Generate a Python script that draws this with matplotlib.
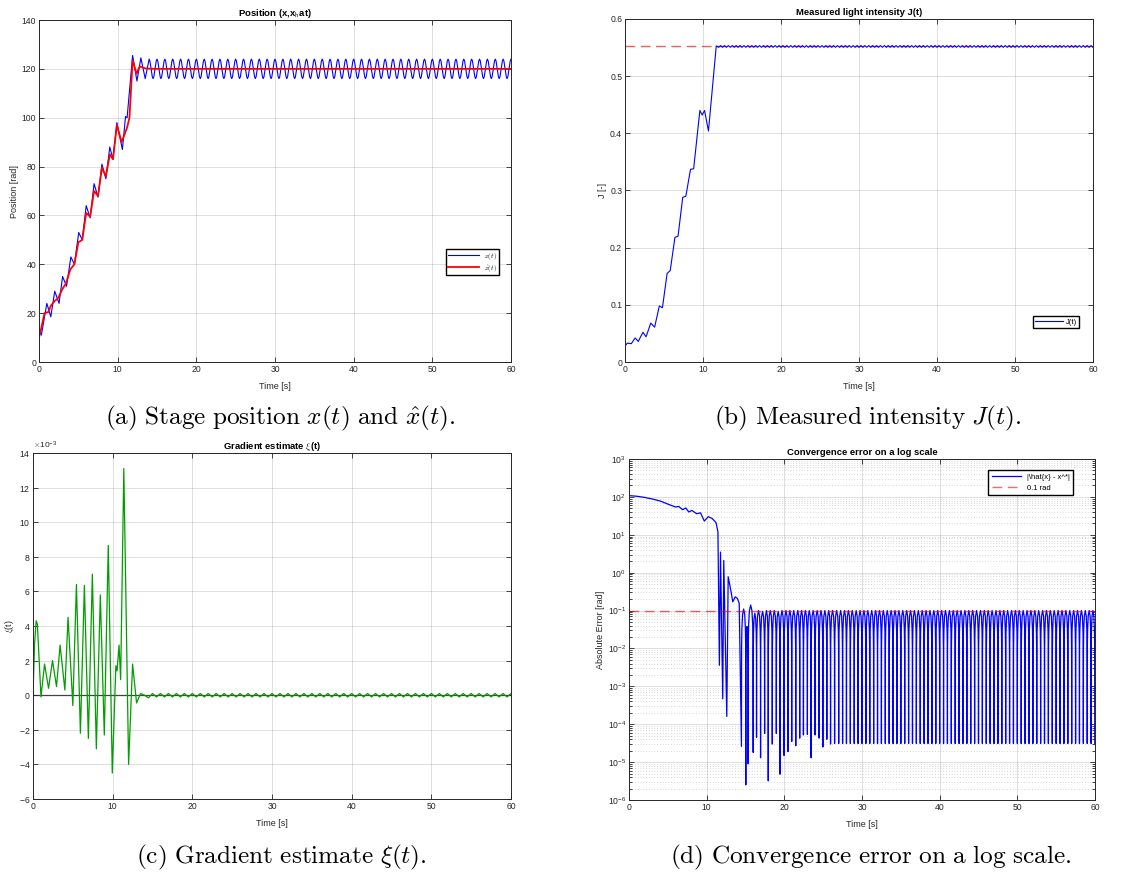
import numpy as np
import matplotlib
matplotlib.use('Agg')
import matplotlib.pyplot as plt
from matplotlib.ticker import LogLocator, NullFormatter, FormatStrFormatter

plt.rcParams['font.family'] = ['Liberation Sans', 'DejaVu Sans']
plt.rcParams['mathtext.fontset'] = 'cm'
plt.rcParams['axes.unicode_minus'] = False

# ---------------- (a) stage position ----------------
t_x = [0, 0.3, 1.0, 1.5, 2.0, 2.55, 3.0, 3.5, 4.05, 4.5, 5.05, 5.5, 6.0, 6.5, 7.0,
       7.5, 8.0, 8.5, 9.0, 9.4, 9.9, 10.6, 11.0, 11.2, 11.9, 12.45, 12.95, 13.5]
x_val = [14, 11, 24, 18.5, 29, 24, 35, 31, 43, 40, 53, 50, 64, 59, 73,
         67.5, 81, 75, 88, 83, 98, 87, 100.5, 100, 125.5, 115, 124.5, 116]
# steady oscillation, one cycle per second (peak 124, trough 116)
x_cycles = [14, 15, 16, 17, 18, 19, 20, 21, 22, 23, 24, 25, 26, 27, 28, 29, 30, 31,
            32, 33, 34, 35, 36, 37, 38, 39, 40, 41, 42, 43, 44, 45, 46, 47, 48, 49,
            50, 51, 52, 53, 54, 55, 56, 57, 58, 59, 60]
x_cyc_off = [0, 0.1, 0.25, 0.4, 0.5, 0.6, 0.75, 0.9]
x_cyc_val = [124, 123.2, 120, 116.8, 116, 116.8, 120, 123.2]

t_xh = [0, 0.3, 0.7, 1.2, 1.5, 2.0, 2.4, 3.0, 3.4, 4.0, 4.5, 5.0, 5.5, 6.0, 6.5, 7.0,
        7.5, 8.0, 8.5, 9.0, 9.4, 9.9, 10.5, 11.2, 11.5, 11.9, 12.4, 12.8, 13.5, 14.5, 60]
xh_val = [10, 14, 20, 20.5, 23, 25, 26, 30, 32, 38, 40, 49, 50, 61, 59.5, 70,
          68, 79.5, 76, 85, 83, 97, 90, 96, 100, 123.5, 118, 121, 120.2, 120, 120]

# ---------------- (b) measured intensity ----------------
t_J = [0, 0.3, 0.8, 1.3, 1.7, 2.3, 2.7, 3.3, 3.8, 4.4, 4.8, 5.4, 5.8, 6.4, 6.8,
       7.4, 7.8, 8.4, 8.8, 9.6, 9.9, 10.2, 10.7, 11.7]
J_val = [0.028, 0.033, 0.032, 0.042, 0.036, 0.052, 0.044, 0.068, 0.061, 0.098, 0.095,
         0.155, 0.16, 0.218, 0.22, 0.288, 0.29, 0.337, 0.338, 0.44, 0.432, 0.44, 0.404, 0.553]
J_cycles = [12, 13, 14, 15, 16, 17, 18, 19, 20, 21, 22, 23, 24, 25, 26, 27, 28, 29,
            30, 31, 32, 33, 34, 35, 36, 37, 38, 39, 40, 41, 42, 43, 44, 45, 46, 47,
            48, 49, 50, 51, 52, 53, 54, 55, 56, 57, 58, 59, 60]
J_cyc_off = [0, 0.25, 0.5, 0.75]
J_cyc_val = [0.5505, 0.5535, 0.5505, 0.5535]
J_max = 0.5535

# ---------------- (c) gradient estimate (x 1e-3) ----------------
t_xi = [0, 0.2, 0.4, 0.55, 1.0, 1.45, 1.95, 2.45, 2.95, 3.4, 4.0, 4.4, 5.0, 5.45, 5.95,
        6.45, 6.95, 7.45, 7.95, 8.45, 8.95, 9.45, 9.95, 10.4, 10.55, 10.8, 11.0, 11.4,
        12.0, 12.5, 13.0, 13.5, 14.0, 14.5]
xi_val = [0, 3.0, 4.3, 4.1, -0.1, 1.8, 0.4, 2.0, 0.5, 2.9, 0.3, 4.5, -0.6, 6.4, -2.2,
          6.35, -2.5, 7.0, -3.1, 5.8, -2.3, 8.65, -4.5, 1.7, 1.4, 2.9, 0.9, 13.1,
          -4.0, 1.8, -0.45, 0.1, 0.0, -0.15]
xi_cycles = [15, 16, 17, 18, 19, 20, 21, 22, 23, 24, 25, 26, 27, 28, 29, 30, 31, 32,
             33, 34, 35, 36, 37, 38, 39, 40, 41, 42, 43, 44, 45, 46, 47, 48, 49, 50,
             51, 52, 53, 54, 55, 56, 57, 58, 59, 60]
xi_cyc_off = [0, 0.5]
xi_cyc_val = [0.1, -0.1]

# ---------------- (d) convergence error ----------------
t_err = [0, 1, 2, 3, 4, 4.8, 5.4, 6.0, 6.4, 6.9, 7.3, 7.7, 8.1, 8.7, 9.2, 9.7, 10.2,
         10.7, 11.2, 11.45, 11.64, 11.78, 12.07, 12.2, 12.59, 12.77, 13.1, 13.36,
         13.67, 13.95, 14.19]
err_val = [108, 104, 97, 88, 78, 67, 60, 54, 56, 46, 51, 40, 44, 36, 38, 23, 30,
           27, 21, 12, 0.0036, 3.5, 0.00047, 2.1, 0.00016, 0.78, 0.35, 0.17,
           0.23, 0.21, 0.155]
dip_t = [14.48, 15.04, 15.34, 15.99, 16.42, 16.94, 17.46, 17.93, 18.45, 18.97, 19.44,
         19.96, 20.47, 20.95, 21.47, 21.98, 22.46, 22.97, 23.45, 23.96, 24.48, 24.96,
         25.47, 25.95, 26.47]
dip_v = [2.6e-5, 2.5e-6, 9e-6, 1.8e-5, 4.5e-5, 1.3e-5, 5.7e-5, 3.2e-6, 3e-5, 5.7e-5,
         4.8e-6, 1.5e-5, 1.9e-5, 3.5e-5, 2.7e-5, 4.3e-5, 5.2e-5, 5.4e-5, 1.3e-5, 5.2e-5,
         4.3e-5, 2.5e-5, 4e-5, 3e-5, 3.1e-5]
arch_peak = [0.11, 0.038, 0.14, 0.085, 0.1, 0.095, 0.1, 0.1, 0.1, 0.095, 0.1, 0.1,
             0.1, 0.1, 0.1, 0.1, 0.1, 0.1, 0.1, 0.1, 0.1, 0.1, 0.1, 0.1]
dip_t_steady = [27.0, 27.5, 28.0, 28.5, 29.0, 29.5, 30.0, 30.5, 31.0, 31.5, 32.0, 32.5,
                33.0, 33.5, 34.0, 34.5, 35.0, 35.5, 36.0, 36.5, 37.0, 37.5, 38.0, 38.5,
                39.0, 39.5, 40.0, 40.5, 41.0, 41.5, 42.0, 42.5, 43.0, 43.5, 44.0, 44.5,
                45.0, 45.5, 46.0, 46.5, 47.0, 47.5, 48.0, 48.5, 49.0, 49.5, 50.0, 50.5,
                51.0, 51.5, 52.0, 52.5, 53.0, 53.5, 54.0, 54.5, 55.0, 55.5, 56.0, 56.5,
                57.0, 57.5, 58.0, 58.5, 59.0, 59.5, 59.97]
dip_floor = 3.1e-5
arch_top = 0.1
# shape of one arch between two dips (fraction of gap, fraction of arch peak)
arch_frac = [0.03, 0.1, 0.25, 0.5, 0.75, 0.9, 0.97]
arch_rel = [0.1, 0.31, 0.71, 1.0, 0.71, 0.31, 0.1]
tol = 0.1

captions = [r'$\mathrm{(a)\ Stage\ position\ }x(t)\mathrm{\ and\ }\hat{x}(t)\mathrm{.}$',
            r'$\mathrm{(b)\ Measured\ intensity\ }J(t)\mathrm{.}$',
            r'$\mathrm{(c)\ Gradient\ estimate\ }\xi(t)\mathrm{.}$',
            r'$\mathrm{(d)\ Convergence\ error\ on\ a\ log\ scale.}$']


def add_cycles(tt, vv, starts, offs, vals, t_end=60):
    tt, vv = list(tt), list(vv)
    for c in starts:
        for o, v in zip(offs, vals):
            if c + o <= t_end:
                tt.append(c + o)
                vv.append(v)
    return tt, vv


dark = '#262626'
fs_lab = 6.5
fs_tit = 6.8


def style(ax):
    ax.tick_params(direction='in', which='both', top=True, right=True, labelsize=6.2,
                   colors=dark, length=3.5, width=0.6, pad=2)
    ax.tick_params(which='minor', length=2)
    for sp in ax.spines.values():
        sp.set_color(dark)
        sp.set_linewidth(0.7)
    ax.grid(True, which='major', color=dark, alpha=0.15, lw=0.7)
    ax.set_xlim(0, 60)
    ax.set_xticks([0, 10, 20, 30, 40, 50, 60])


fig = plt.figure(figsize=(11.46, 8.76), dpi=100)
W, H = 1146, 876


def box(l, t, r, b):
    return [l / W, 1 - b / H, (r - l) / W, (b - t) / H]


ax_a = fig.add_axes(box(39, 20, 511, 362))
ax_b = fig.add_axes(box(625, 19, 1093, 362))
ax_c = fig.add_axes(box(33, 453, 511, 799))
ax_d = fig.add_axes(box(629, 459, 1095, 800))

# (a)
tx, xv = add_cycles(t_x, x_val, x_cycles, x_cyc_off, x_cyc_val)
ax_a.plot(tx, xv, color='b', lw=0.8, label=r'$x(t)$')
ax_a.plot(t_xh, xh_val, color='r', lw=1.3, label=r'$\hat{x}(t)$')
ax_a.set_ylim(0, 140)
ax_a.set_yticks(range(0, 141, 20))
style(ax_a)
ax_a.set_title(r'Position (x,x$_{\mathsf{h}}$at)', fontsize=fs_tit, fontweight='bold', pad=3)
ax_a.set_ylabel('Position [rad]', fontsize=fs_lab, color=dark, labelpad=2)
ax_a.set_xlabel('Time [s]', fontsize=fs_lab, color=dark, labelpad=6)
ax_a.legend(loc='lower right', bbox_to_anchor=(0.981, 0.243), fontsize=5,
            handlelength=4.6, fancybox=False, edgecolor='black', framealpha=1,
            borderpad=0.25, labelspacing=0.15, handletextpad=0.6)

# (b)
tJ, Jv = add_cycles(t_J, J_val, J_cycles, J_cyc_off, J_cyc_val)
ax_b.axhline(J_max, color='r', alpha=0.65, lw=1.0, dashes=(7, 4))
ax_b.plot(tJ, Jv, color='b', lw=0.8, label='J(t)')
ax_b.set_ylim(0, 0.6)
ax_b.set_yticks([0, 0.1, 0.2, 0.3, 0.4, 0.5, 0.6])
ax_b.yaxis.set_major_formatter(FormatStrFormatter('%g'))
style(ax_b)
ax_b.set_title('Measured light intensity J(t)', fontsize=fs_tit, fontweight='bold', pad=3)
ax_b.set_ylabel('J [-]', fontsize=fs_lab, color=dark, labelpad=2)
ax_b.set_xlabel('Time [s]', fontsize=fs_lab, color=dark, labelpad=6)
ax_b.legend(loc='lower right', bbox_to_anchor=(0.979, 0.087), fontsize=5.5,
            handlelength=3.6, fancybox=False, edgecolor='black', framealpha=1,
            borderpad=0.3, handletextpad=0.4)

# (c)
tc, xc = add_cycles(t_xi, xi_val, xi_cycles, xi_cyc_off, xi_cyc_val)
xc = np.array(xc) * 1e-3
ax_c.axhline(0, color=dark, lw=0.9, alpha=0.85)
ax_c.plot(tc, xc, color=(0, 0.62, 0), lw=0.9)
ax_c.set_ylim(-6e-3, 14e-3)
ax_c.set_yticks(np.array([-6, -4, -2, 0, 2, 4, 6, 8, 10, 12, 14]) * 1e-3)
ax_c.ticklabel_format(axis='y', style='sci', scilimits=(-3, -3), useMathText=True)
ax_c.yaxis.get_offset_text().set_fontsize(6)
ax_c.yaxis.get_offset_text().set_color(dark)
style(ax_c)
ax_c.set_title(r'Gradient estimate $\xi$(t)', fontsize=fs_tit, fontweight='bold', pad=3)
ax_c.set_ylabel(r'$\xi$(t)', fontsize=fs_lab, color=dark, labelpad=2)
ax_c.set_xlabel('Time [s]', fontsize=fs_lab, color=dark, labelpad=6)

# (d)
te, ve = list(t_err), list(err_val)
all_dips = dip_t + dip_t_steady
all_dv = dip_v + [dip_floor] * len(dip_t_steady)
all_peaks = arch_peak + [arch_top] * (len(all_dips) - len(arch_peak))
for i in range(len(all_dips)):
    te.append(all_dips[i])
    ve.append(all_dv[i])
    if i + 1 < len(all_dips):
        gap = all_dips[i + 1] - all_dips[i]
        for f, r in zip(arch_frac, arch_rel):
            te.append(all_dips[i] + f * gap)
            ve.append(all_peaks[i] * r)
ax_d.set_yscale('log')
ax_d.plot(te, ve, color='b', lw=0.9, label=r'|\hat{x} - x^*|')
ax_d.axhline(tol, color='r', alpha=0.6, lw=1.0, dashes=(7, 4), label='0.1 rad')
ax_d.set_ylim(1e-6, 1e3)
ax_d.yaxis.set_major_locator(LogLocator(base=10, numticks=20))
ax_d.yaxis.set_minor_locator(LogLocator(base=10, subs=np.arange(2, 10), numticks=20))
ax_d.yaxis.set_minor_formatter(NullFormatter())
style(ax_d)
ax_d.grid(True, which='minor', axis='y', color=dark, alpha=0.35, lw=0.5, linestyle=(0, (1, 3)))
ax_d.set_title('Convergence error on a log scale', fontsize=fs_tit, fontweight='bold', pad=3)
ax_d.set_ylabel('Absolute Error [rad]', fontsize=fs_lab, color=dark, labelpad=2)
ax_d.set_xlabel('Time [s]', fontsize=fs_lab, color=dark, labelpad=6)
ax_d.legend(loc='upper right', bbox_to_anchor=(0.961, 0.979), fontsize=5.5,
            handlelength=3.8, fancybox=False, edgecolor='black', framealpha=1,
            borderpad=0.45, labelspacing=0.45, handletextpad=0.8)

for (cx, cy), cap in zip([(280, 418), (868, 418), (281, 857), (871, 857)], captions):
    fig.text(cx / W, 1 - cy / H, cap, ha='center', va='center', fontsize=18.2)

fig.savefig('out.png', dpi=100, facecolor='white')
